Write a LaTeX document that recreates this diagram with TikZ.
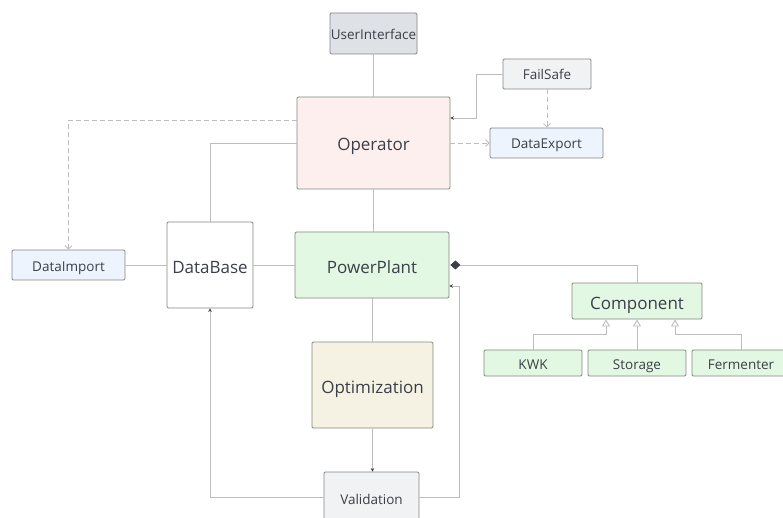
\documentclass[tikz,border=0pt]{standalone}
\usepackage{fontspec}
\setmainfont{Open Sans}
\usetikzlibrary{arrows.meta}
\definecolor{edge}{HTML}{858585}
\definecolor{wire}{HTML}{BDBDBD}
\definecolor{ink}{HTML}{3B4048}
\definecolor{uigray}{HTML}{DEE1E6}
\definecolor{oppink}{HTML}{FDEFEE}
\definecolor{ppgreen}{HTML}{E2F8E2}
\definecolor{optcream}{HTML}{F6F2E3}
\definecolor{lightgray}{HTML}{F1F2F4}
\definecolor{datablue}{HTML}{EDF4FD}
\tikzset{
  box/.style={draw=edge, line width=0.8pt, rounded corners=1.2pt, inner sep=0pt,
    text=ink, font=\fontsize{13.5}{16}\selectfont, text height=12pt, text depth=0pt},
  bigbox/.style={box, font=\fontsize{17}{20}\selectfont, text height=16pt},
  wireline/.style={draw=wire, line width=0.9pt},
  dashline/.style={draw=wire, line width=0.9pt, dash pattern=on 5pt off 3pt},
  smallarrow/.style={-{Stealth[length=3.5pt,width=3.5pt,color=ink]}},
  openarrow/.style={-{Straight Barb[length=3.5pt,width=7pt,line width=0.8pt]}},
  inherit/.style={-{Triangle[open,length=7pt,width=8pt,fill=white]}},
  compose/.style={-{Diamond[length=10pt,width=9pt,fill=ink,color=ink]}},
}
\begin{document}
\begin{tikzpicture}[x=1pt,y=-1pt]
\useasboundingbox (0,0) rectangle (783,518);

% classes
\node[box, fill=uigray, minimum width=87pt, minimum height=41pt] (ui) at (373.5,33.5) {UserInterface};
\node[box, fill=lightgray, minimum width=88pt, minimum height=30pt] (fs) at (547,74) {FailSafe};
\node[box, fill=datablue, minimum width=113pt, minimum height=30pt] (dex) at (546.5,143) {DataExport};
\node[bigbox, fill=oppink, minimum width=153pt, minimum height=92pt] (op) at (373.5,143) {Operator};
\node[box, fill=datablue, minimum width=113pt, minimum height=30pt] (dim) at (68.5,265) {DataImport};
\node[bigbox, fill=white, minimum width=86pt, minimum height=86pt] (db) at (210,265) {DataBase};
\node[bigbox, fill=ppgreen, minimum width=154pt, minimum height=66pt] (pp) at (372,265) {PowerPlant};
\node[bigbox, fill=ppgreen, minimum width=130pt, minimum height=36pt] (comp) at (637,301) {Component};
\node[box, fill=ppgreen, minimum width=98pt, minimum height=26pt] (kwk) at (533,363) {KWK};
\node[box, fill=ppgreen, minimum width=98pt, minimum height=26pt] (sto) at (637,363) {Storage};
\node[box, fill=ppgreen, minimum width=98pt, minimum height=26pt] (fer) at (741,363) {Fermenter};
\node[bigbox, fill=optcream, minimum width=121pt, minimum height=86pt] (opt) at (372.5,385) {Optimization};
\node[box, fill=lightgray, minimum width=95pt, minimum height=52pt] (val) at (371.5,498) {Validation};

% associations
\draw[wireline] (ui.south) -- (ui.south |- op.north);
\draw[wireline, smallarrow] (fs.west) -- ++(-26,0) |- ([yshift=25pt]op.east);
\draw[dashline, openarrow] (fs.south) -- (fs.south |- dex.north);
\draw[dashline, openarrow] (op.east) -- (dex.west);
\draw[dashline, openarrow] ([yshift=23pt]op.west) -| (dim.north);
\draw[wireline] (op.west) -| (db.north);
\draw[wireline] (dim.east) -- (db.west);
\draw[wireline] (db.east) -- (pp.west);
\draw[wireline] (op.south) -- (op.south |- pp.north);
\draw[wireline, compose] (comp.north) |- ([xshift=1pt]pp.east);
\draw[wireline] (pp.south) -- (pp.south |- opt.north);
\draw[wireline, smallarrow] (opt.south) -- (opt.south |- val.north);
\draw[wireline, smallarrow] ([yshift=1pt]val.west) -| (db.south);
\draw[wireline, smallarrow] ([yshift=1pt]val.east) -- ++(40,0) |- ([yshift=-21pt]pp.east);

% inheritance
\draw[wireline, inherit] (kwk.north) -- ++(0,-15) -| ([xshift=-31pt]comp.south);
\draw[wireline, inherit] (sto.north) -- (comp.south);
\draw[wireline, inherit] (fer.north) -- ++(0,-15) -| ([xshift=38pt]comp.south);
\end{tikzpicture}
\end{document}
